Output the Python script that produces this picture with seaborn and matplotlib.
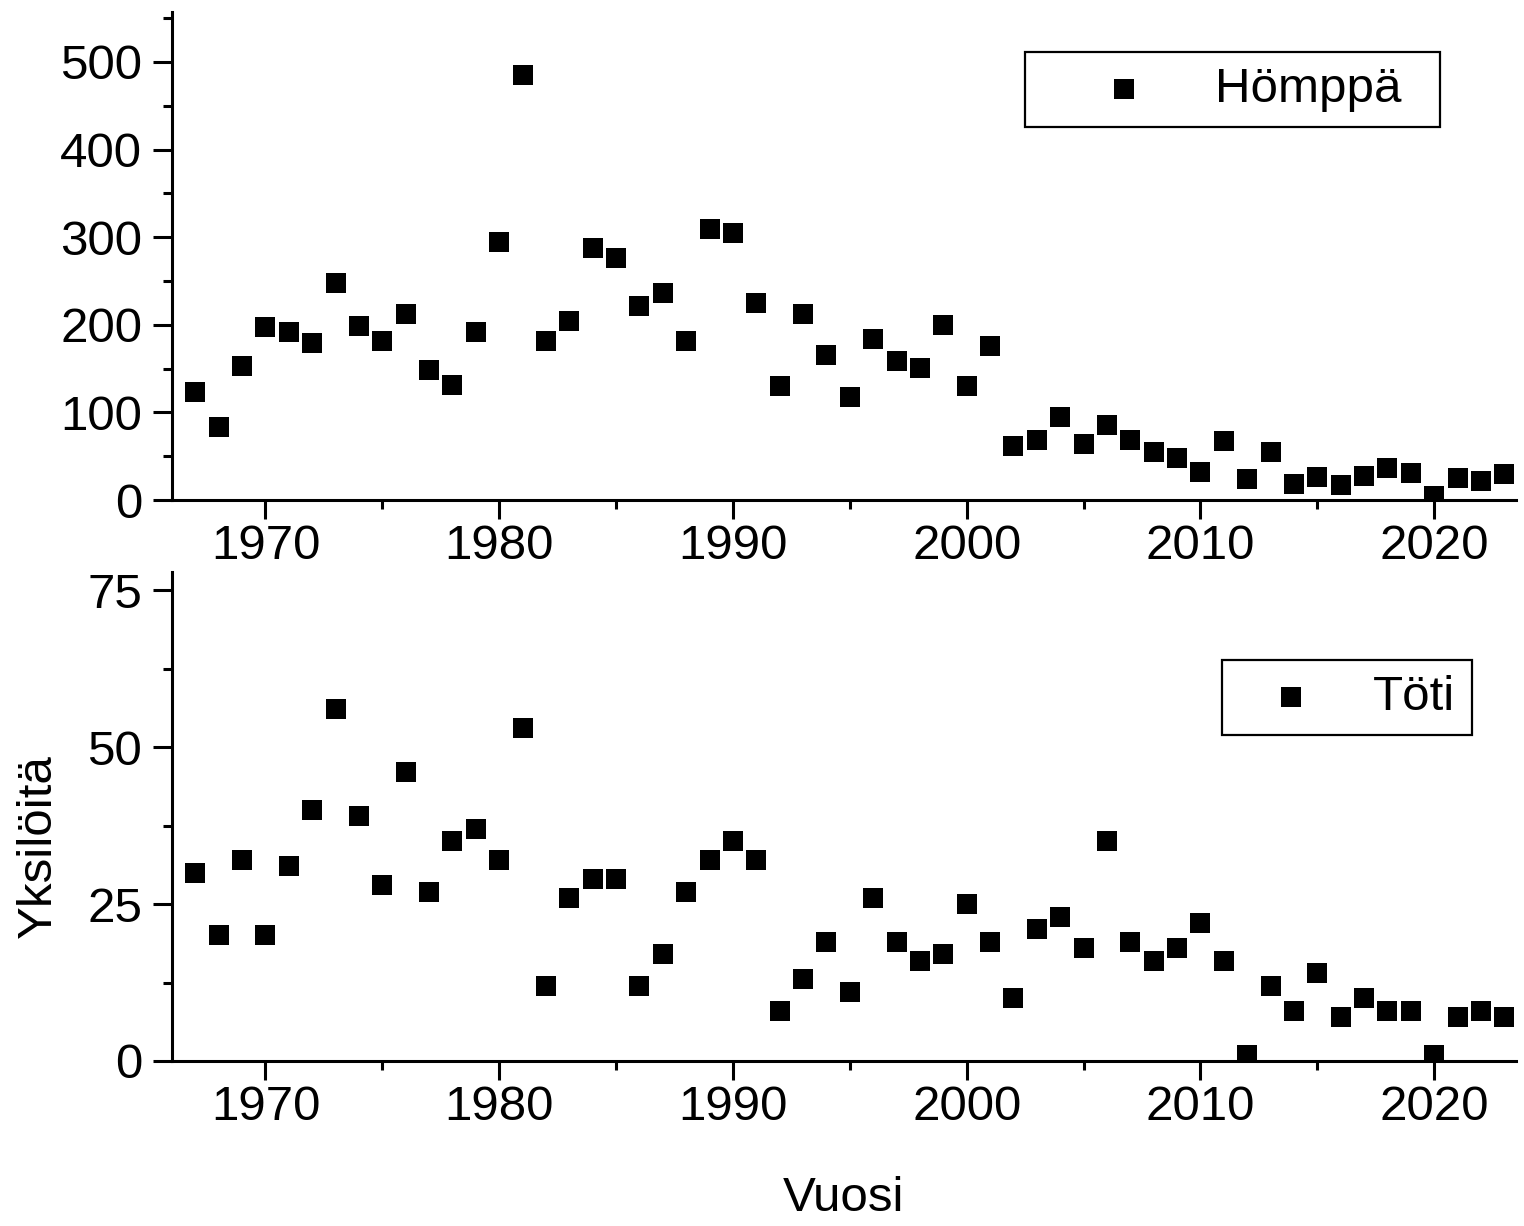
import matplotlib
matplotlib.use("Agg")
import matplotlib.pyplot as plt
import seaborn as sns
import pandas as pd
from matplotlib.ticker import MultipleLocator

years = list(range(1967, 2024))
hemppa = [123, 83, 153, 197, 192, 179, 248, 199, 182, 212,
          148, 131, 192, 295, 485, 182, 204, 288, 276, 221,
          236, 182, 309, 305, 225, 130, 212, 166, 118, 184,
          159, 151, 200, 130, 176, 62, 68, 95, 64, 86,
          68, 55, 48, 32, 67, 24, 55, 18, 26, 17,
          27, 37, 31, 5, 25, 22, 30]
toti = [30, 20, 32, 20, 31, 40, 56, 39, 28, 46,
        27, 35, 37, 32, 53, 12, 26, 29, 29, 12,
        17, 27, 32, 35, 32, 8, 13, 19, 11, 26,
        19, 16, 17, 25, 19, 10, 21, 23, 18, 35,
        19, 16, 18, 22, 16, 1, 12, 8, 14, 7,
        10, 8, 8, 1, 7, 8, 7]
series_names = ["Hömppä", "Töti"]
x_label = "Vuosi"
y_label = "Yksilöitä"

df = pd.DataFrame({"Vuosi": years, "Hömppä": hemppa, "Töti": toti})

sns.set_theme(style="ticks")
plt.rcParams["font.family"] = ["Liberation Sans", "DejaVu Sans"]
plt.rcParams.update({"text.color": "black", "axes.labelcolor": "black",
                     "xtick.color": "black", "ytick.color": "black",
                     "axes.edgecolor": "black"})
FS = 35.5

fig = plt.figure(figsize=(15.24, 12.26), dpi=100)
W, H = 1524, 1226
ax1 = fig.add_axes([172 / W, (H - 500) / H, (1516 - 172) / W, (500 - 12) / H])
ax2 = fig.add_axes([172 / W, (H - 1061) / H, (1516 - 172) / W, (1061 - 572) / H])

sns.scatterplot(data=df, x="Vuosi", y="Hömppä", ax=ax1, marker="s", s=205,
                color="black", linewidth=0, label=series_names[0], legend=False)
sns.scatterplot(data=df, x="Vuosi", y="Töti", ax=ax2, marker="s", s=205,
                color="black", linewidth=0, label=series_names[1], legend=False)

ax1.set_ylim(0, 557)
ax2.set_ylim(0, 77.9)
for ax in (ax1, ax2):
    ax.set_xlim(1966, 2023.5)
    ax.xaxis.set_major_locator(MultipleLocator(10))
    ax.xaxis.set_minor_locator(MultipleLocator(5))
    for s in ("top", "right"):
        ax.spines[s].set_visible(False)
    for s in ("left", "bottom"):
        ax.spines[s].set_linewidth(2.2)
        ax.spines[s].set_color("black")
    ax.tick_params(which="major", length=13.5, width=2.2, color="black",
                   labelsize=FS, labelcolor="black", direction="out")
    ax.tick_params(which="minor", length=6.5, width=2.2, color="black", direction="out")
    ax.tick_params(axis="y", which="major", pad=8)
    ax.tick_params(axis="x", which="major", pad=4)
    ax.set_xlabel("")
    ax.set_ylabel("")

ax1.yaxis.set_major_locator(MultipleLocator(100))
ax1.yaxis.set_minor_locator(MultipleLocator(50))
ax2.yaxis.set_major_locator(MultipleLocator(25))
ax2.yaxis.set_minor_locator(MultipleLocator(12.5))

ax2.set_xlabel(x_label, fontsize=FS, color="black")
ax2.xaxis.set_label_coords(0.5, -0.235)
ax2.set_ylabel(y_label, fontsize=FS, color="black")
ax2.yaxis.set_label_coords(-0.083, 0.44)

def make_legend(ax, x0, x1, ytop, hl, htp):
    axw = 1516 - 172
    leg = ax.legend(loc="upper left", mode="expand",
                    bbox_to_anchor=((x0 - 172) / axw, ytop - 0.4, (x1 - x0) / axw, 0.4),
                    fontsize=FS, frameon=True, fancybox=False, framealpha=1,
                    edgecolor="black", borderpad=0.3, borderaxespad=0,
                    handlelength=hl, handletextpad=htp, markerscale=1.0)
    for t in leg.get_texts():
        t.set_color("black")
    return leg

leg1 = make_legend(ax1, 1025, 1440, (500 - 52) / 488, 3.4, 0.15)
leg2 = make_legend(ax2, 1222, 1472, (1061 - 660) / 489, 2.2, 0.55)
for leg in (leg1, leg2):
    leg.get_frame().set_linewidth(1.6)

fig.savefig("out.png", dpi=100)
